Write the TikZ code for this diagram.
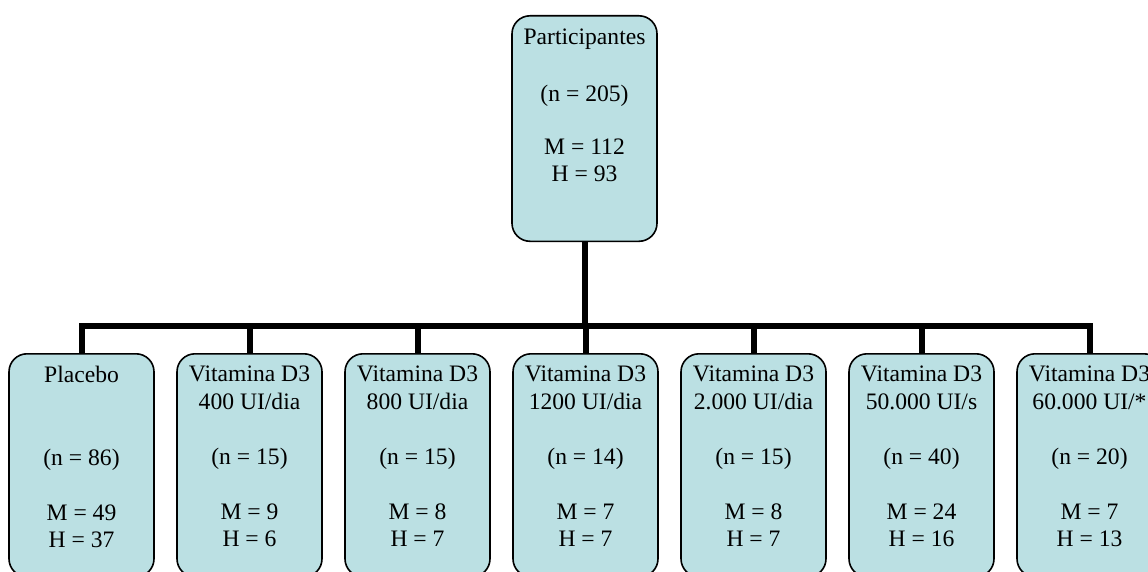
\documentclass[tikz,border=0pt]{standalone}
\usepackage{fontspec}
\setmainfont{Liberation Serif}
\usetikzlibrary{backgrounds}
\definecolor{boxfill}{HTML}{BBE0E3}
\tikzset{
  grpbox/.style={draw=black, line width=1.6pt, fill=boxfill, rounded corners=18pt,
    minimum width=145pt, inner sep=0pt, anchor=north},
  topbox/.style={grpbox, minimum height=225.5pt},
  lowbox/.style={grpbox, minimum height=223pt},
  boxtxt/.style={inner sep=0pt, align=center, anchor=north, font=\fontsize{23.6}{27.5}\selectfont},
  toptxt/.style={boxtxt, font=\fontsize{23.6}{26.7}\selectfont},
  conn/.style={line width=6pt, draw=black}
}
\begin{document}
\begin{tikzpicture}[x=1pt,y=1pt]
\clip (0,0) rectangle (1148,-572);
% boxes
\node[topbox] (top) at (584.5,-15) {};
\foreach \i in {1,...,7}{
  \node[lowbox] (b\i) at ({81.5+168*(\i-1)},-353) {};
}
\coordinate (bar) at (584.5,-325.7);
% connectors behind the boxes
\begin{pgfonlayer}{background}
\fill[white] (0,0) rectangle (1148,-572);
\draw[conn] (top.south) -- (bar);
\draw[conn] (b1.north) -- (b1.north |- bar) -- (b7.north |- bar) -- (b7.north);
\foreach \i in {2,...,6}{
  \draw[conn] (b\i.north) -- (b\i.north |- bar);
}
\end{pgfonlayer}
% texts
\node[toptxt] (ttop) at (584.5,-29) {Participantes\\[30pt](n = 205)\\[26.7pt]M = 112\\H = 93};
\node[boxtxt] (t1) at (81.5,-366) {Placebo\\[55pt](n = 86)\\[27.5pt]M = 49\\H = 37};
\node[boxtxt] (t2) at (249.5,-366) {Vitamina D3\\400 UI/dia\\[27.5pt](n = 15)\\[27.5pt]M = 9\\H = 6};
\node[boxtxt] (t3) at (417.5,-366) {Vitamina D3\\800 UI/dia\\[27.5pt](n = 15)\\[27.5pt]M = 8\\H = 7};
\node[boxtxt] (t4) at (585.5,-366) {Vitamina D3\\1200 UI/dia\\[27.5pt](n = 14)\\[27.5pt]M = 7\\H = 7};
\node[boxtxt] (t5) at (753.5,-366) {Vitamina D3\\2.000 UI/dia\\[27.5pt](n = 15)\\[27.5pt]M = 8\\H = 7};
\node[boxtxt] (t6) at (921.5,-366) {Vitamina D3\\50.000 UI/s\\[27.5pt](n = 40)\\[27.5pt]M = 24\\H = 16};
\node[boxtxt] (t7) at (1089.5,-366) {Vitamina D3\\60.000 UI/*\\[27.5pt](n = 20)\\[27.5pt]M = 7\\H = 13};
\end{tikzpicture}
\end{document}
